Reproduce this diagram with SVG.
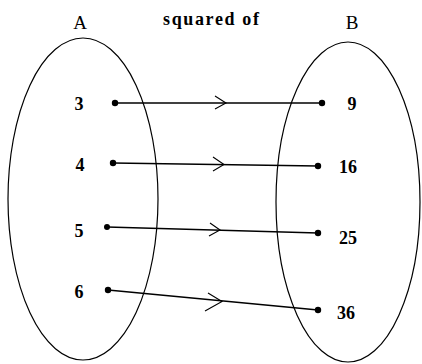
<svg xmlns="http://www.w3.org/2000/svg" width="422" height="364" viewBox="0 0 422 364">
<defs>
<style>
.set{fill:none;stroke:#000;stroke-width:1.2}
.lbl{font-family:"Liberation Serif","Times New Roman",serif;font-size:19px;fill:#000;text-anchor:middle}
.num{font-family:"Liberation Serif","Times New Roman",serif;font-size:18px;font-weight:bold;fill:#000;text-anchor:middle}
.ln{stroke:#000;stroke-width:1.3;fill:none}
.ah{stroke:#000;stroke-width:1.1;fill:none}
.dot{fill:#000}
</style>
</defs>
<rect width="422" height="364" fill="#fff"/>
<g id="setA">
<ellipse class="set" cx="83" cy="199" rx="75" ry="161"/>
<text class="lbl" x="80" y="29">A</text>
</g>
<g id="setB">
<ellipse class="set" cx="348" cy="202" rx="72" ry="160"/>
<text class="lbl" x="352" y="29">B</text>
</g>
<text class="num" x="211" y="25" font-size="19" textLength="96" lengthAdjust="spacing">squared of</text>
<g id="a3"><text class="num" x="79" y="110">3</text><circle class="dot" cx="115" cy="103" r="3.2"/></g>
<g id="a4"><text class="num" x="80" y="171">4</text><circle class="dot" cx="113" cy="163" r="3.2"/></g>
<g id="a5"><text class="num" x="79" y="237">5</text><circle class="dot" cx="107" cy="227" r="3"/></g>
<g id="a6"><text class="num" x="79" y="298">6</text><circle class="dot" cx="108" cy="290" r="3.2"/></g>
<g id="b9"><text class="num" x="352" y="110">9</text><circle class="dot" cx="322" cy="103" r="3.2"/></g>
<g id="b16"><text class="num" x="348" y="173">16</text><circle class="dot" cx="318" cy="166" r="3.2"/></g>
<g id="b25"><text class="num" x="348" y="244">25</text><circle class="dot" cx="318" cy="233" r="3.2"/></g>
<g id="b36"><text class="num" x="346" y="319">36</text><circle class="dot" cx="318" cy="310" r="3.2"/></g>
<g id="connectors">
<line class="ln" x1="115" y1="103" x2="322" y2="103"/>
<polyline class="ah" points="215,96 226,103 215,109"/>
<line class="ln" x1="113" y1="163" x2="318" y2="166"/>
<polyline class="ah" points="213,157 224,164.5 213,171"/>
<line class="ln" x1="107" y1="227" x2="318" y2="233"/>
<polyline class="ah" points="210,223 220,230 209,236"/>
<line class="ln" x1="108" y1="290" x2="318" y2="310"/>
<polyline class="ah" points="208,293 222,301.5 205,311"/>
</g>
</svg>
